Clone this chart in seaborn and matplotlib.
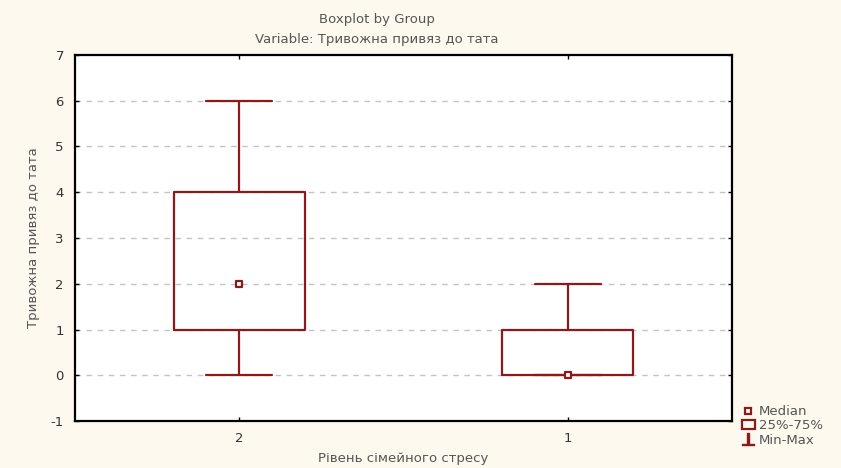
import numpy as np
import pandas as pd
import matplotlib
matplotlib.use("Agg")
import matplotlib.pyplot as plt
import seaborn as sns
from matplotlib.lines import Line2D
from matplotlib.patches import Patch

# five-number summary per group
groups = ["2", "1"]
mins = [0, 0]
q1s = [1, 0]
medians = [2, 0]
q3s = [4, 1]
maxs = [6, 2]

yticks = [-1, 0, 1, 2, 3, 4, 5, 6, 7]
title1 = "Boxplot by Group"
title2 = "Variable: Тривожна привяз до тата"
ylab = "Тривожна привяз до тата"
xlab = "Рівень сімейного стресу"

red = "#8c1a1a"
cream = "#fef9ef"

rows = []
for g, a, b, c, d, e in zip(groups, mins, q1s, medians, q3s, maxs):
    for v in (a, b, c, d, e):
        rows.append({"group": g, "value": v})
df = pd.DataFrame(rows)
med = pd.DataFrame({"group": groups, "value": medians})

sns.set_style("white")
plt.rcParams["font.family"] = ["DejaVu Sans"]

fig = plt.figure(figsize=(8.41, 4.68), dpi=100, facecolor=cream)
ax = fig.add_axes([0.0892, 0.1004, 0.7812, 0.7821])
ax.set_facecolor("white")

sns.boxplot(data=df, x="group", y="value", order=groups, ax=ax,
            whis=(0, 100), width=0.4, fill=False, color=red,
            linewidth=1.6, medianprops={"visible": False})
sns.scatterplot(data=med, x="group", y="value", ax=ax, marker="s", s=24,
                facecolor="white", edgecolor=red, linewidth=1.6, zorder=5)

ax.set_xlim(-0.5, 1.5)
ax.set_ylim(-1, 7)
ax.set_yticks(yticks)
ax.set_yticklabels([str(t) for t in yticks])
for t in yticks[1:-1]:
    ax.axhline(t, color="#c4c4c4", lw=1, ls=(0, (4, 4)), zorder=0)

for s in ax.spines.values():
    s.set_color("black")
    s.set_linewidth(1.6)
fs = 9.5
ax.tick_params(direction="in", length=3, width=1, top=True, right=True,
               bottom=True, left=True, labelsize=fs, colors="black",
               labelcolor="#333333", pad=8)
ax.set_xlabel(xlab, fontsize=fs, color="#555555", labelpad=5)
ax.set_ylabel(ylab, fontsize=fs, color="#555555", labelpad=8)

fig.text(0.448, 0.958, title1, ha="center", va="center", fontsize=fs, color="#555555")
fig.text(0.448, 0.915, title2, ha="center", va="center", fontsize=fs, color="#555555")

handles = [
    Line2D([], [], ls="none", marker="s", ms=5, mfc="white", mec=red, mew=1.6),
    Patch(facecolor="none", edgecolor=red, linewidth=1.6),
    Line2D([], [], ls="none", marker=r"$\perp$", ms=9, color=red),
]
fig.legend(handles, ["Median", "25%-75%", "Min-Max"], loc="lower left",
           bbox_to_anchor=(0.868, 0.02), frameon=False, fontsize=fs,
           handlelength=1.0, handletextpad=0.3, labelspacing=0.1,
           labelcolor="#555555")

fig.savefig("out.png", dpi=100, facecolor=cream)
